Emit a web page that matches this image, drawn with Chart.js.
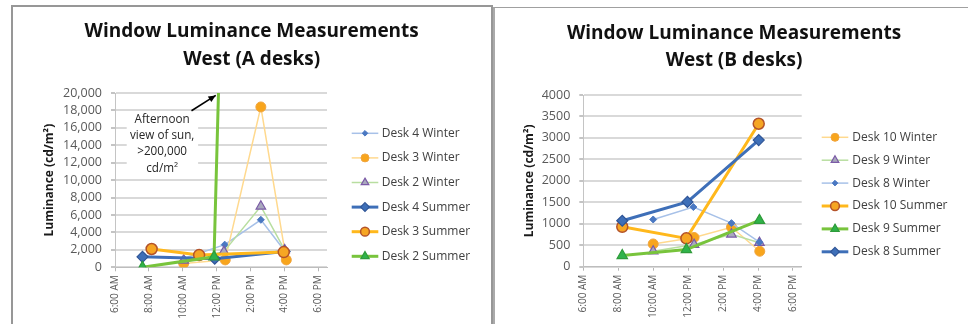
<!DOCTYPE html>
<html>
<head>
<meta charset="utf-8">
<script src="https://cdn.jsdelivr.net/npm/chart.js@4.4.1/dist/chart.umd.min.js"></script>
<style>
  html, body { margin: 0; padding: 0; background: #fff; width: 968px; height: 324px; overflow: hidden; }
  .panel { position: absolute; box-sizing: border-box; background: #fff; }
  #panelA { left: 11px; top: 5px; width: 482px; height: 340px; border: 2px solid #979797; }
  #panelB { left: 493px; top: 7px; width: 490px; height: 340px; border-left: 2px solid #aaaaaa; border-top: 1px solid #a0a0a0; }
  canvas { position: absolute; }
  #chartA { left: 13px; top: 7px; width: 478px; height: 317px; }
  #chartB { left: 495px; top: 8px; width: 473px; height: 316px; }
</style>
</head>
<body>
<div class="panel" id="panelA"></div>
<div class="panel" id="panelB"></div>
<canvas id="chartA" width="478" height="317"></canvas>
<canvas id="chartB" width="473" height="316"></canvas>
<script>
// ---- West (A desks): time of day in hours, luminance in cd/m2 ----
const d4WinterHours = [10.05, 12.47, 14.6, 16.0];
const d4WinterLum   = [1000, 2600, 5450, 1900];
const d3WinterHours = [10.05, 12.5, 14.6, 16.1];
const d3WinterLum   = [450, 850, 18400, 850];
const d2WinterHours = [10.05, 12.42, 14.6, 16.0];
const d2WinterLum   = [800, 1800, 7000, 2000];
const d4SummerHours = [7.62, 11.88, 16.0];
const d4SummerLum   = [1200, 980, 1800];
const d3SummerHours = [8.16, 10.96, 15.95];
const d3SummerLum   = [2100, 1400, 1750];
const d2SummerHours = [7.62, 11.84, 14.6];
const d2SummerLum   = [0, 1200, 200000];

// ---- West (B desks) ----
const d10WinterHours = [10.0, 12.34, 14.48, 16.1];
const d10WinterLum   = [530, 680, 920, 360];
const d9WinterHours  = [10.0, 12.34, 14.48, 16.08];
const d9WinterLum    = [360, 515, 755, 560];
const d8WinterHours  = [10.0, 12.3, 14.48, 16.08];
const d8WinterLum    = [1100, 1390, 1015, 570];
const d10SummerHours = [8.23, 11.9, 16.04];
const d10SummerLum   = [930, 660, 3330];
const d9SummerHours  = [8.23, 11.9, 16.08];
const d9SummerLum    = [260, 400, 1080];
const d8SummerHours  = [8.23, 11.96, 16.04];
const d8SummerLum    = [1070, 1510, 2950];

// Axis ranges and tick steps
const hourMin = 6, hourMax = 18.5, hourStep = 2;
const lumMaxA = 20000, lumStepA = 2000;
const lumMaxB = 4000,  lumStepB = 500;

// Line/marker looks
const LOOK = {
  blueThin:    { line: '#a7c1e8', width: 1.5, point: 'rectRot',  r: 3.5, fill: '#4a78c2', stroke: '#4a78c2', bw: 1 },
  orangeThin:  { line: '#ffd98e', width: 1.5, point: 'circle',   r: 5,   fill: '#f8a51c', stroke: '#f0a540', bw: 1 },
  greenThin:   { line: '#b8dea0', width: 1.5, point: 'triangle', r: 5.5, fill: '#a9a9bd', stroke: '#7b5ba6', bw: 1.2 },
  blueThick:   { line: '#3e6fb8', width: 3,   point: 'rectRot',  r: 5.5, fill: '#3e6fb8', stroke: '#2f5597', bw: 1.2 },
  orangeThick: { line: '#ffb81c', width: 3,   point: 'circle',   r: 5.5, fill: '#f6a623', stroke: '#b4532a', bw: 1.5 },
  greenThick:  { line: '#78c43c', width: 3,   point: 'triangle', r: 6,   fill: '#2fb34a', stroke: '#2f9b3a', bw: 1.2 }
};

const seriesA = [
  { label: 'Desk 4 Winter', hours: d4WinterHours, lum: d4WinterLum, look: LOOK.blueThin },
  { label: 'Desk 3 Winter', hours: d3WinterHours, lum: d3WinterLum, look: LOOK.orangeThin },
  { label: 'Desk 2 Winter', hours: d2WinterHours, lum: d2WinterLum, look: LOOK.greenThin },
  { label: 'Desk 4 Summer', hours: d4SummerHours, lum: d4SummerLum, look: LOOK.blueThick },
  { label: 'Desk 3 Summer', hours: d3SummerHours, lum: d3SummerLum, look: LOOK.orangeThick },
  { label: 'Desk 2 Summer', hours: d2SummerHours, lum: d2SummerLum, look: LOOK.greenThick }
];
const seriesB = [
  { label: 'Desk 10 Winter', hours: d10WinterHours, lum: d10WinterLum, look: LOOK.orangeThin },
  { label: 'Desk 9 Winter',  hours: d9WinterHours,  lum: d9WinterLum,  look: LOOK.greenThin },
  { label: 'Desk 8 Winter',  hours: d8WinterHours,  lum: d8WinterLum,  look: LOOK.blueThin },
  { label: 'Desk 10 Summer', hours: d10SummerHours, lum: d10SummerLum, look: LOOK.orangeThick },
  { label: 'Desk 9 Summer',  hours: d9SummerHours,  lum: d9SummerLum,  look: LOOK.greenThick },
  { label: 'Desk 8 Summer',  hours: d8SummerHours,  lum: d8SummerLum,  look: LOOK.blueThick }
];

const FONT = '"Open Sans"';

function hourLabel(h) {
  const hr = Math.round(h);
  let h12 = hr % 12; if (h12 === 0) h12 = 12;
  return h12 + ':00 ' + (hr < 12 ? 'AM' : 'PM');
}

function toDatasets(series) {
  return series.map((s, i) => ({
    label: s.label,
    data: s.hours.map((h, k) => ({ x: h, y: s.lum[k] })),
    borderColor: s.look.line,
    borderWidth: s.look.width,
    pointStyle: s.look.point,
    pointRadius: s.look.r,
    pointBackgroundColor: s.look.fill,
    pointBorderColor: s.look.stroke,
    pointBorderWidth: s.look.bw,
    tension: 0,
    fill: false,
    order: -i,
    look: s.look
  }));
}

function drawMarker(ctx, style, x, y, r, fill, stroke, bw) {
  ctx.beginPath();
  if (style === 'circle') {
    ctx.arc(x, y, r, 0, Math.PI * 2);
  } else if (style === 'rectRot') {
    ctx.moveTo(x, y - r); ctx.lineTo(x + r, y); ctx.lineTo(x, y + r); ctx.lineTo(x - r, y); ctx.closePath();
  } else {
    for (let k = 0; k < 3; k++) {
      const a = -Math.PI / 2 + k * 2 * Math.PI / 3;
      const px = x + r * Math.cos(a), py = y + r * Math.sin(a);
      if (k === 0) ctx.moveTo(px, py); else ctx.lineTo(px, py);
    }
    ctx.closePath();
  }
  ctx.fillStyle = fill; ctx.fill();
  if (bw) { ctx.lineWidth = bw; ctx.strokeStyle = stroke; ctx.stroke(); }
}

// Two-line chart heading
const headingPlugin = {
  id: 'heading',
  afterDraw(chart, args, opts) {
    const ctx = chart.ctx;
    ctx.save();
    ctx.font = 'bold ' + opts.size + 'px ' + FONT;
    ctx.fillStyle = '#111';
    ctx.textAlign = 'center';
    ctx.textBaseline = 'middle';
    opts.lines.forEach((t, i) => ctx.fillText(t, opts.x, opts.y[i]));
    ctx.restore();
  }
};

// Legend to the right of the plot: line sample with marker, then label
const sideLegendPlugin = {
  id: 'sideLegend',
  afterDraw(chart, args, opts) {
    const ctx = chart.ctx;
    ctx.save();
    ctx.font = opts.size + 'px ' + FONT;
    ctx.textBaseline = 'middle';
    ctx.textAlign = 'left';
    chart.data.datasets.forEach((ds, i) => {
      const y = opts.y0 + i * opts.dy;
      const lk = ds.look;
      ctx.beginPath();
      ctx.moveTo(opts.x, y); ctx.lineTo(opts.x + opts.len, y);
      ctx.strokeStyle = lk.line; ctx.lineWidth = lk.width; ctx.stroke();
      drawMarker(ctx, lk.point, opts.x + opts.len / 2, y, lk.r * 0.8, lk.fill, lk.stroke, lk.bw);
      ctx.fillStyle = '#404040';
      ctx.fillText(ds.label, opts.x + opts.len + opts.gap, y);
    });
    ctx.restore();
  }
};

// Callout for the sun reading that runs off the top of the scale
const sunNotePlugin = {
  id: 'sunNote',
  afterDraw(chart, args, opts) {
    if (!opts.lines) return;
    const ctx = chart.ctx, xs = chart.scales.x, ys = chart.scales.y;
    const px = h => xs.getPixelForValue(h), py = v => ys.getPixelForValue(v);
    ctx.save();
    // white box
    const bx0 = px(opts.box[0]), bx1 = px(opts.box[1]);
    const by0 = py(opts.box[2]), by1 = py(opts.box[3]);
    ctx.fillStyle = '#fff';
    ctx.fillRect(bx0, by0, bx1 - bx0, by1 - by0);
    // text
    ctx.fillStyle = '#262626';
    ctx.font = opts.size + 'px ' + FONT;
    ctx.textAlign = 'center';
    ctx.textBaseline = 'middle';
    opts.lines.forEach((t, i) => ctx.fillText(t, px(opts.textHour), py(opts.textLum[i])));
    // arrow
    const x0 = px(opts.arrow[0]), y0 = py(opts.arrow[1]);
    const x1 = px(opts.arrow[2]), y1 = py(opts.arrow[3]);
    ctx.strokeStyle = '#000'; ctx.lineWidth = 1.6;
    ctx.beginPath(); ctx.moveTo(x0, y0); ctx.lineTo(x1, y1); ctx.stroke();
    const a = Math.atan2(y1 - y0, x1 - x0), L = 8, W = 0.42;
    ctx.fillStyle = '#000';
    ctx.beginPath();
    ctx.moveTo(x1, y1);
    ctx.lineTo(x1 - L * Math.cos(a - W), y1 - L * Math.sin(a - W));
    ctx.lineTo(x1 - L * Math.cos(a + W), y1 - L * Math.sin(a + W));
    ctx.closePath(); ctx.fill();
    ctx.restore();
  }
};

function makeChart(id, series, cfg) {
  return new Chart(document.getElementById(id), {
    type: 'line',
    data: { datasets: toDatasets(series) },
    plugins: [headingPlugin, sideLegendPlugin, sunNotePlugin],
    options: {
      responsive: false,
      animation: false,
      devicePixelRatio: 1,
      layout: { padding: { left: 0, right: cfg.padRight, top: cfg.padTop, bottom: 0 } },
      plugins: {
        legend: { display: false },
        tooltip: { enabled: false },
        heading: cfg.heading,
        sideLegend: cfg.legend,
        sunNote: cfg.note || {}
      },
      scales: {
        x: {
          type: 'linear',
          min: hourMin, max: hourMax,
          afterFit: s => { s.height = cfg.xHeight; },
          ticks: {
            stepSize: hourStep, includeBounds: false, autoSkip: false,
            minRotation: 90, maxRotation: 90, padding: 4,
            color: '#595959', font: { family: FONT, size: 10 },
            callback: v => hourLabel(v)
          },
          grid: { drawOnChartArea: false, drawTicks: true, tickLength: 4, tickColor: '#b5b5b5' },
          border: { color: '#bdbdbd', width: 1 }
        },
        y: {
          type: 'linear',
          min: 0, max: cfg.yMax,
          afterFit: s => { s.width = cfg.yWidth; },
          ticks: {
            stepSize: cfg.yStep, padding: 9, autoSkip: false,
            color: '#595959', font: { family: FONT, size: 12.5 },
            callback: v => cfg.commas ? v.toLocaleString('en-US') : String(v)
          },
          grid: { color: '#d9d9d9', lineWidth: 2, tickLength: 4, tickColor: '#c4c4c4' },
          border: { color: '#c4c4c4', width: 1 },
          title: {
            display: true, text: 'Luminance (cd/m²)', color: '#1a1a1a',
            font: { family: FONT, size: 12, weight: 'bold' },
            padding: { top: cfg.yTitlePad, bottom: 0 }
          }
        }
      }
    }
  });
}

function build() {
  makeChart('chartA', seriesA, {
    padRight: 164, padTop: 86, xHeight: 56.7, yWidth: 102, yTitlePad: 29,
    yMax: lumMaxA, yStep: lumStepA, commas: true,
    heading: { lines: ['Window Luminance Measurements', 'West (A desks)'], x: 238.7, y: [24.5, 52.3], size: 19 },
    legend: { x: 338.7, y0: 126.3, dy: 24.6, len: 26.6, gap: 3.4, size: 12 },
    note: {
      lines: ['Afternoon', 'view of sun,', '>200,000', 'cd/m²'],
      size: 11.7,
      box: [6.69, 10.9, 17700, 10400],
      textHour: 8.78,
      textLum: [16930, 15130, 13220, 11300],
      arrow: [10.51, 17966, 11.94, 19720]
    }
  });
  makeChart('chartB', seriesB, {
    padRight: 166.3, padTop: 87, xHeight: 57.3, yWidth: 88.3, yTitlePad: 27,
    yMax: lumMaxB, yStep: lumStepB, commas: false,
    heading: { lines: ['Window Luminance Measurements', 'West (B desks)'], x: 239, y: [25.3, 53], size: 19 },
    legend: { x: 326.7, y0: 129.3, dy: 22.9, len: 26.6, gap: 4, size: 12 }
  });
}

if (document.fonts && document.fonts.load) {
  Promise.all([
    document.fonts.load('bold 19px "Open Sans"'),
    document.fonts.load('12px "Open Sans"')
  ]).then(build, build);
} else {
  build();
}
</script>
</body>
</html>
